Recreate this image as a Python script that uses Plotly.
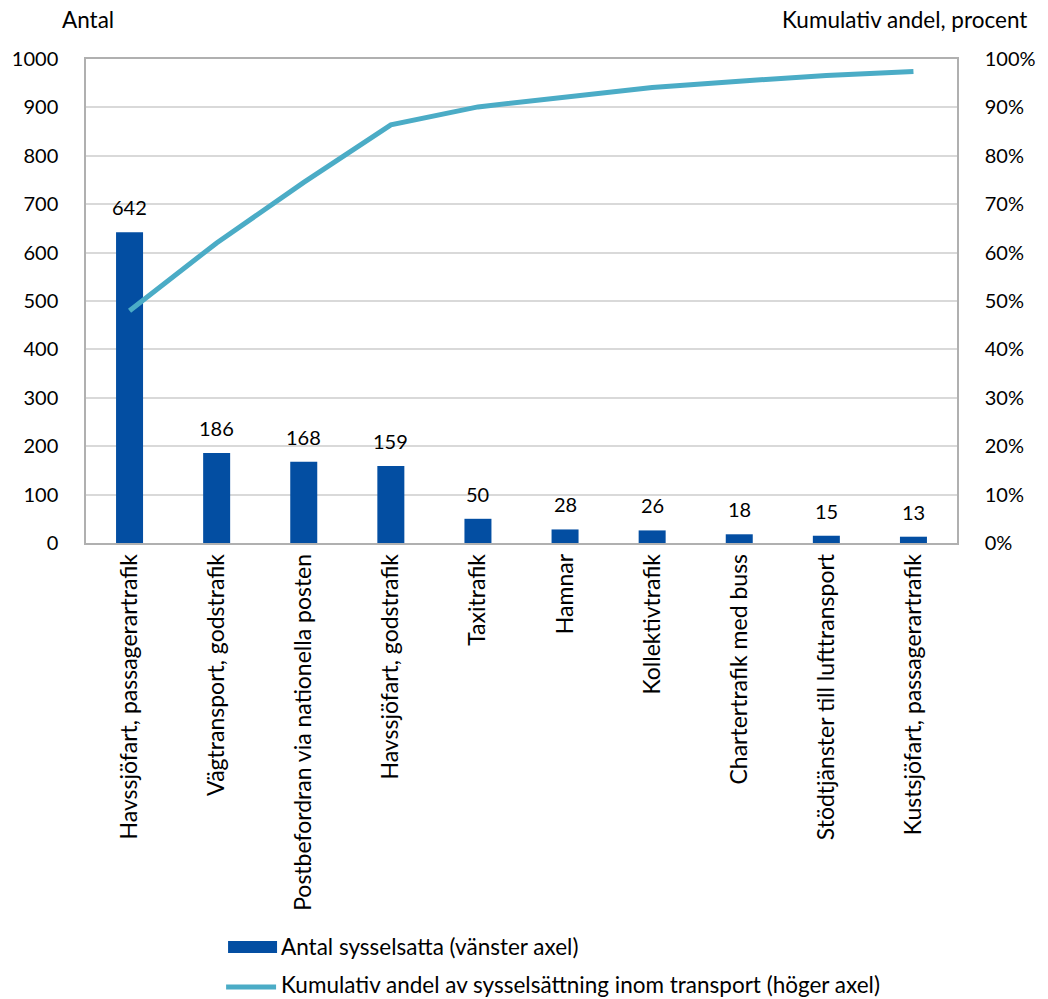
import plotly.graph_objects as go

# Employment by transport branch
categories = [
    "Havssjöfart, passagerartrafik",
    "Vägtransport, godstrafik",
    "Postbefordran via nationella posten",
    "Havssjöfart, godstrafik",
    "Taxitrafik",
    "Hamnar",
    "Kollektivtrafik",
    "Chartertrafik med buss",
    "Stödtjänster till lufttransport",
    "Kustsjöfart, passagerartrafik",
]
employed = [642, 186, 168, 159, 50, 28, 26, 18, 15, 13]
cumulative_share = [0.480, 0.620, 0.745, 0.864, 0.901, 0.922, 0.941, 0.954, 0.966, 0.974]

left_ticks = list(range(0, 1001, 100))
right_ticks = [i / 10 for i in range(11)]
right_labels = [f"{int(round(t * 100))}%" for t in right_ticks]

BAR_COLOR = "#034EA2"
LINE_COLOR = "#4BACC6"
FONT = "Lato"
NUM_SIZE = 20
TXT_SIZE = 22.5
CAT_SIZE = 23
W, H = 1048, 999
L, R, T, B = 81, 970, 59, 543


def px(x):
    return (x - L) / (R - L)


def py(y):
    return (B - y) / (B - T)


fig = go.Figure()
fig.add_trace(go.Bar(
    x=categories, y=employed, name="Antal sysselsatta (vänster axel)",
    marker=dict(color=BAR_COLOR, line=dict(width=0)),
    width=0.31, showlegend=False,
))
fig.add_trace(go.Scatter(
    x=categories, y=cumulative_share, yaxis="y2", mode="lines",
    name="Kumulativ andel av sysselsättning inom transport (höger axel)",
    line=dict(color=LINE_COLOR, width=5), showlegend=False,
))

axis_line = "#B0B0B0"
fig.update_layout(
    width=W, height=H,
    margin=dict(l=L, r=W - R, t=T, b=H - B, pad=0),
    paper_bgcolor="white", plot_bgcolor="white",
    font=dict(family=FONT, size=NUM_SIZE, color="#000000"),
    xaxis=dict(
        type="category", tickangle=-90, showgrid=False, ticks="",
        showline=True, linecolor=axis_line, linewidth=1.5, mirror=True,
        tickfont=dict(size=CAT_SIZE), ticklabelstandoff=0,
    ),
    yaxis=dict(
        range=[0, 1000], tickvals=left_ticks, showgrid=True, gridcolor="#D9D9D9",
        gridwidth=1.5, showline=True, linecolor=axis_line, linewidth=1.5,
        zeroline=False, ticks="", tickfont=dict(size=NUM_SIZE), ticklabelstandoff=22,
    ),
    yaxis2=dict(
        range=[0, 1], tickvals=right_ticks, ticktext=right_labels,
        overlaying="y", side="right", showgrid=False, showline=True,
        linecolor=axis_line, linewidth=1.5, zeroline=False, ticks="",
        tickfont=dict(size=NUM_SIZE), ticklabelstandoff=22,
    ),
)

# Value labels above each bar
annotations = [
    dict(x=c, y=v, xref="x", yref="y", text=str(v), showarrow=False,
         yanchor="bottom", yshift=11,
         font=dict(size=NUM_SIZE, family=FONT, color="#000000"))
    for c, v in zip(categories, employed)
]

texts = [
    dict(text="Antal", x=px(54), y=py(20), xanchor="left", yanchor="middle"),
    dict(text="Kumulativ andel, procent", x=px(1043), y=py(20),
         xanchor="right", yanchor="middle"),
    dict(text="Antal sysselsatta (vänster axel)", x=px(278), y=py(946),
         xanchor="left", yanchor="middle"),
    dict(text="Kumulativ andel av sysselsättning inom transport (höger axel)",
         x=px(278), y=py(984), xanchor="left", yanchor="middle"),
]
for a in texts:
    a.update(xref="paper", yref="paper", showarrow=False,
             font=dict(size=TXT_SIZE, family=FONT, color="#000000"))
fig.update_layout(annotations=annotations + texts)

# Legend keys
fig.add_shape(type="rect", xref="paper", yref="paper",
              x0=px(226), x1=px(276), y0=py(953), y1=py(941),
              fillcolor=BAR_COLOR, line=dict(width=0))
fig.add_shape(type="line", xref="paper", yref="paper",
              x0=px(224), x1=px(275), y0=py(987), y1=py(987),
              line=dict(color=LINE_COLOR, width=5))

fig.write_html("out.html")
